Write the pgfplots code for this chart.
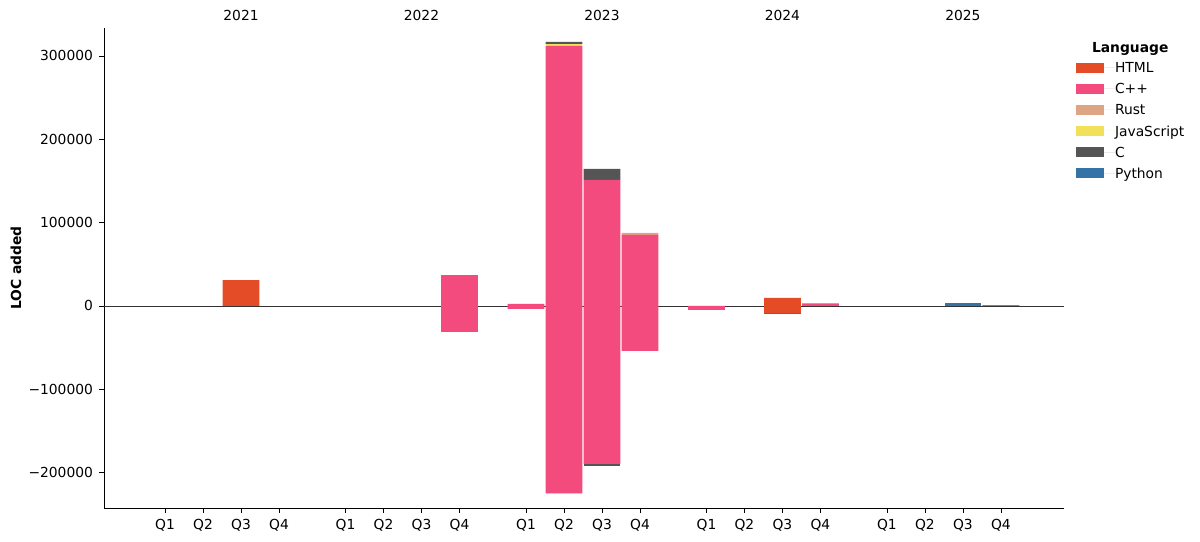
\documentclass[border=0pt]{standalone}
\usepackage{pgfplots}
\pgfplotsset{compat=1.18}
\usepackage{pgfplotstable}
\usepackage{fontspec}
\setmainfont{DejaVu Sans}
\definecolor{cHTML}{HTML}{E34C26}
\definecolor{cCpp}{HTML}{F34B7D}
\definecolor{cRust}{HTML}{DEA584}
\definecolor{cJS}{HTML}{F1E05A}
\definecolor{cC}{HTML}{555555}
\definecolor{cPy}{HTML}{3572A5}

% positive additions
\pgfplotstableread{
x      HTML   Cpp     Rust  JS    C      Py
2      31000  0       0     0     0      0
7.75   0      37000   0     0     0      0
9.5    0      2400    0     0     0      0
10.5   0      312000  0     2400  2400   0
11.5   0      151200  0     0     13200  0
12.5   0      85200   2400  0     0      0
16.25  9600   0       0     0     0      0
17.25  0      2500    1000  0     0      0
21     0      0       0     0     0      3600
22     0      1100    0     0     0      0
}\pos
% negative (removed)
\pgfplotstableread{
x      HTML   Cpp      Rust  JS     C      Py
7.75   0      -31200   0     0      0      0
9.5    0      -3600    0     0      0      0
10.5   0      -224600  0     -1500  0      0
11.5   0      -189600  0     0      -2400  0
12.5   0      -54000   0     0      0      0
14.25  0      -4600    0     0      0      0
16.25  -8600  0        0     0      0      -900
}\neg

\pgfplotsset{
  base/.style={
    scale only axis,
    width=693.8pt, height=346.9pt,
    at={(0,0)}, anchor=south west,
    xmin=-1.605, xmax=23.66,
    ymin=-242400, ymax=333600,
    ybar stacked, bar width=0.97,
    clip=false,
  },
}

\begin{document}
\begin{tikzpicture}[font=\fontsize{10pt}{12pt}\selectfont]
\begin{axis}[base,
  axis x line*=bottom, axis y line*=left,
  axis line style={line width=0.6pt},
  xtick={0,1,2,3,4.75,5.75,6.75,7.75,9.5,10.5,11.5,12.5,14.25,15.25,16.25,17.25,19,20,21,22},
  xticklabels={Q1,Q2,Q3,Q4,Q1,Q2,Q3,Q4,Q1,Q2,Q3,Q4,Q1,Q2,Q3,Q4,Q1,Q2,Q3,Q4},
  ytick={-200000,-100000,0,100000,200000,300000},
  yticklabels={−200000,−100000,0,100000,200000,300000},
  scaled y ticks=false,
  tick style={black, line width=0.6pt},
  major tick length=3.5pt,
  tick align=outside,
  xticklabel style={yshift=-1pt},
  yticklabel style={xshift=-1pt},
  ylabel={\bfseries LOC added},
  ylabel style={at={(rel axis cs:-0.0917,0.5)}, anchor=center},
  legend style={at={(rel axis cs:1.0125,0.928)}, anchor=north west, draw=none,
    fill=none, row sep=7.8pt, inner sep=0pt,
    nodes={inner sep=0pt, anchor=west, text depth=0pt}},
  legend cell align=left,
  legend image code/.code={\fill[#1,draw=none] (0pt,-3.6pt) rectangle (20pt,3.6pt);\path (0pt,0pt) -- (28pt,0pt);},
]
\addplot[fill=cHTML, draw=none] table[x=x, y=HTML] {\pos};
\addplot[fill=cCpp, draw=none] table[x=x, y=Cpp] {\pos};
\addplot[fill=cRust, draw=none] table[x=x, y=Rust] {\pos};
\addplot[fill=cJS, draw=none] table[x=x, y=JS] {\pos};
\addplot[fill=cC, draw=none] table[x=x, y=C] {\pos};
\addplot[fill=cPy, draw=none] table[x=x, y=Py] {\pos};
\legend{HTML,C++,Rust,JavaScript,C,Python}
\node[font=\fontsize{10pt}{12pt}\selectfont\bfseries] at (rel axis cs:1.069,0.956) {Language};
\node at (axis cs:2,348000) {2021};
\node at (axis cs:6.75,348000) {2022};
\node at (axis cs:11.5,348000) {2023};
\node at (axis cs:16.25,348000) {2024};
\node at (axis cs:21,348000) {2025};
\end{axis}
\begin{axis}[base, hide axis]
\addplot[fill=cHTML, draw=none] table[x=x, y=HTML] {\neg};
\addplot[fill=cCpp, draw=none] table[x=x, y=Cpp] {\neg};
\addplot[fill=cRust, draw=none] table[x=x, y=Rust] {\neg};
\addplot[fill=cJS, draw=none] table[x=x, y=JS] {\neg};
\addplot[fill=cC, draw=none] table[x=x, y=C] {\neg};
\addplot[fill=cPy, draw=none] table[x=x, y=Py] {\neg};
\draw[black!80, line width=0.6pt] (axis cs:-1.605,0) -- (axis cs:23.66,0);
\end{axis}
\pgfresetboundingbox
\path (-75.2pt,-24.6pt) rectangle (792.1pt,367.1pt);
\end{tikzpicture}
\end{document}
